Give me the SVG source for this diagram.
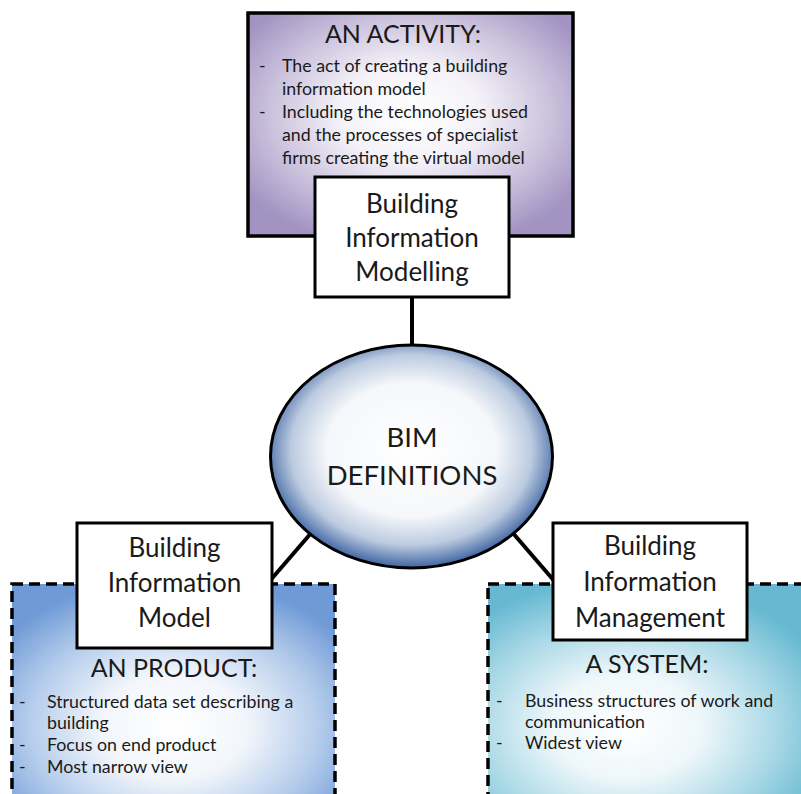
<svg xmlns="http://www.w3.org/2000/svg" width="801" height="794" viewBox="0 0 801 794">
<defs>
<radialGradient id="gPurple" cx="50%" cy="45%" r="62%">
<stop offset="0" stop-color="#ffffff"/>
<stop offset="0.35" stop-color="#f4f2f8"/>
<stop offset="0.7" stop-color="#cac1dc"/>
<stop offset="1" stop-color="#a293c2"/>
</radialGradient>
<radialGradient id="gBlue" cx="50%" cy="62%" r="65%">
<stop offset="0" stop-color="#ffffff"/>
<stop offset="0.35" stop-color="#f2f6fb"/>
<stop offset="0.7" stop-color="#b3cbeb"/>
<stop offset="1" stop-color="#6f9ad6"/>
</radialGradient>
<radialGradient id="gTeal" cx="42%" cy="62%" r="65%">
<stop offset="0" stop-color="#ffffff"/>
<stop offset="0.35" stop-color="#eef7fa"/>
<stop offset="0.7" stop-color="#a9d8e6"/>
<stop offset="1" stop-color="#66b9d1"/>
</radialGradient>
<radialGradient id="gEll" cx="50%" cy="47%" r="52%">
<stop offset="0" stop-color="#ffffff"/>
<stop offset="0.58" stop-color="#f5f7fa"/>
<stop offset="0.82" stop-color="#bccbe0"/>
<stop offset="1" stop-color="#4a6ea8"/>
</radialGradient>
<style>
text{font-family:Lato,"Open Sans","Liberation Sans",sans-serif;fill:#1a1a1a}
.t{font-size:26px;text-anchor:middle}
.e{font-size:27.5px;text-anchor:middle}
.h{font-size:25px;text-anchor:middle}
.b{font-size:17.8px}
.wb{fill:#ffffff;stroke:#000;stroke-width:3}
.dash{stroke:#000;stroke-width:3.5;stroke-dasharray:11 6}
.conn{stroke:#000;stroke-width:4;fill:none}
</style>
</defs>

<g id="connectors">
<line class="conn" x1="412" y1="296" x2="412" y2="346"/>
<line class="conn" x1="312" y1="532" x2="268" y2="583"/>
<line class="conn" x1="512" y1="532" x2="556" y2="583"/>
</g>

<g id="activity">
<rect x="248" y="13" width="325" height="223" fill="url(#gPurple)" stroke="#000" stroke-width="3.5"/>
<text class="h" x="403" y="43">AN ACTIVITY:</text>
<text class="b" x="259" y="72">-</text>
<text class="b" x="282" y="72">The act of creating a building</text>
<text class="b" x="282" y="95">information model</text>
<text class="b" x="259" y="118">-</text>
<text class="b" x="282" y="118">Including the technologies used</text>
<text class="b" x="282" y="141">and the processes of specialist</text>
<text class="b" x="282" y="164">firms creating the virtual model</text>
</g>

<g id="modelling">
<rect class="wb" x="315" y="177" width="194" height="120"/>
<text class="t" x="412" y="213">Building</text>
<text class="t" x="412" y="247">Information</text>
<text class="t" x="412" y="281">Modelling</text>
</g>

<g id="product">
<rect x="12" y="584" width="323" height="230" fill="url(#gBlue)" class="dash"/>
<text class="h" x="174" y="677">AN PRODUCT:</text>
<text class="b" x="19" y="708">-</text>
<text class="b" x="47" y="708">Structured data set describing a</text>
<text class="b" x="47" y="729">building</text>
<text class="b" x="19" y="751">-</text>
<text class="b" x="47" y="751">Focus on end product</text>
<text class="b" x="19" y="773">-</text>
<text class="b" x="47" y="773">Most narrow view</text>
</g>

<g id="model">
<rect class="wb" x="77" y="523" width="195" height="125"/>
<text class="t" x="174.5" y="557">Building</text>
<text class="t" x="174.5" y="592">Information</text>
<text class="t" x="174.5" y="627">Model</text>
</g>

<g id="system">
<rect x="488" y="584" width="330" height="230" fill="url(#gTeal)" class="dash"/>
<text class="h" x="647" y="673">A SYSTEM:</text>
<text class="b" x="496" y="707">-</text>
<text class="b" x="525" y="707">Business structures of work and</text>
<text class="b" x="525" y="728">communication</text>
<text class="b" x="496" y="749">-</text>
<text class="b" x="525" y="749">Widest view</text>
</g>

<g id="management">
<rect class="wb" x="553" y="523" width="194" height="117"/>
<text class="t" x="650" y="555">Building</text>
<text class="t" x="650" y="591">Information</text>
<text class="t" x="650" y="627">Management</text>
</g>

<g id="bim">
<ellipse cx="411.5" cy="456.5" rx="141" ry="111.5" fill="url(#gEll)" stroke="#000" stroke-width="3"/>
<text class="e" x="412" y="447">BIM</text>
<text class="e" x="412" y="485">DEFINITIONS</text>
</g>
</svg>
